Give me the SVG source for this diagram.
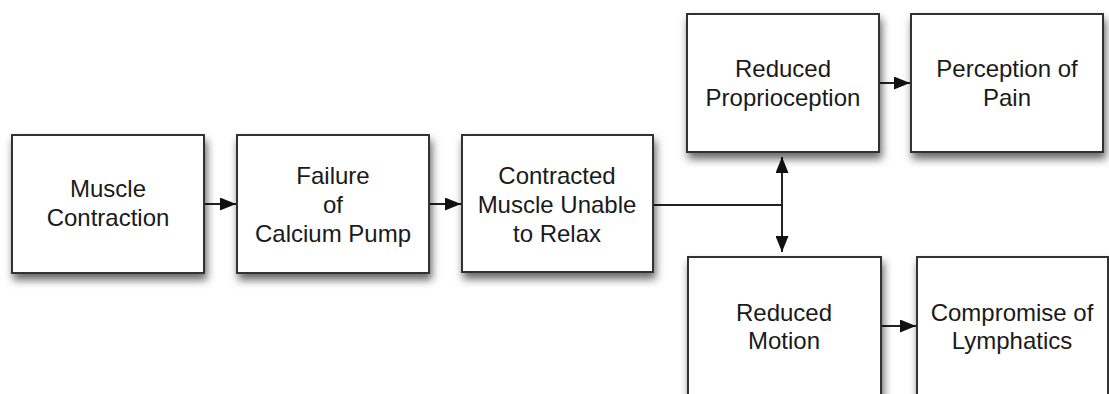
<svg xmlns="http://www.w3.org/2000/svg" width="1109" height="394" viewBox="0 0 1109 394">
<defs>
<style>
.box{fill:#fff;stroke:#333;stroke-width:2;filter:url(#sh)}
.t{font-family:"Liberation Sans",Arial,sans-serif;font-size:24px;fill:#1a1a1a;text-anchor:middle}
.c{stroke:#222;stroke-width:2;fill:none}
</style>
<filter id="sh" x="-10%" y="-10%" width="130%" height="130%">
<feDropShadow dx="2" dy="6" stdDeviation="4" flood-color="#000" flood-opacity="0.6"/>
</filter>
<marker id="ah" viewBox="0 0 16 13" refX="16" refY="6.5" markerWidth="16" markerHeight="13" markerUnits="userSpaceOnUse" orient="auto-start-reverse">
<path d="M0,0 L16,6.5 L0,13 Z" fill="#111"/>
</marker>
</defs>
<rect width="1109" height="394" fill="#fff"/>
<g id="connectors">
<line class="c" x1="204" y1="204" x2="236" y2="204" marker-end="url(#ah)"/>
<line class="c" x1="429" y1="204" x2="461" y2="204" marker-end="url(#ah)"/>
<line class="c" x1="653" y1="205" x2="782" y2="205"/>
<line class="c" x1="782" y1="157" x2="782" y2="252" marker-start="url(#ah)" marker-end="url(#ah)"/>
<line class="c" x1="879" y1="83" x2="910" y2="83" marker-end="url(#ah)"/>
<line class="c" x1="881" y1="326" x2="916" y2="326" marker-end="url(#ah)"/>
</g>
<g id="n1"><rect class="box" x="12" y="135" width="192" height="138"/><text class="t" x="108" y="197">Muscle</text><text class="t" x="108" y="226">Contraction</text></g>
<g id="n2"><rect class="box" x="237" y="135" width="192" height="138"/><text class="t" x="333" y="184">Failure</text><text class="t" x="333" y="213">of</text><text class="t" x="333" y="242">Calcium Pump</text></g>
<g id="n3"><rect class="box" x="462" y="135" width="191" height="137"/><text class="t" x="557" y="184">Contracted</text><text class="t" x="557" y="213">Muscle Unable</text><text class="t" x="557" y="242">to Relax</text></g>
<g id="n4"><rect class="box" x="687" y="14" width="192" height="138"/><text class="t" x="783" y="77">Reduced</text><text class="t" x="783" y="106">Proprioception</text></g>
<g id="n5"><rect class="box" x="911" y="14" width="192" height="138"/><text class="t" x="1007" y="77">Perception of</text><text class="t" x="1007" y="106">Pain</text></g>
<g id="n6"><rect class="box" x="688" y="257" width="193" height="140"/><text class="t" x="784" y="321">Reduced</text><text class="t" x="784" y="349">Motion</text></g>
<g id="n7"><rect class="box" x="917" y="257" width="191" height="140"/><text class="t" x="1012" y="321">Compromise of</text><text class="t" x="1012" y="349">Lymphatics</text></g>
</svg>
